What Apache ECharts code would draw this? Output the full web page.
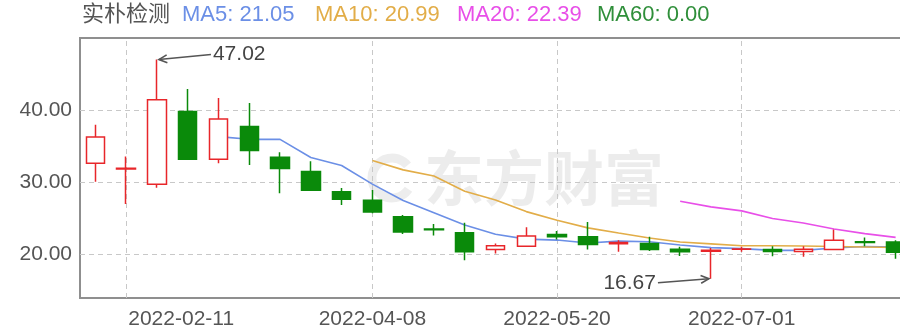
<!DOCTYPE html>
<html>
<head>
<meta charset="utf-8">
<script src="https://cdn.jsdelivr.net/npm/echarts@6/dist/echarts.min.js"></script>
<style>
html,body{margin:0;padding:0;background:#fff;overflow:hidden;width:900px;height:336px;}
#main{width:914px;height:336px;}
</style>
</head>
<body>
<div id="main"></div>
<script>
// ---- data ----
const stockName = '实朴检测';
const dates = ['2022-01-28','2022-02-11','2022-02-18','2022-02-25','2022-03-04','2022-03-11','2022-03-18','2022-03-25','2022-04-01','2022-04-08','2022-04-15','2022-04-22','2022-04-29','2022-05-06','2022-05-13','2022-05-20','2022-05-27','2022-06-02','2022-06-10','2022-06-17','2022-06-24','2022-07-01','2022-07-08','2022-07-15','2022-07-22','2022-07-29','2022-08-05'];
const opens  = [32.67,31.85,29.75,39.83,33.22,37.75,33.50,31.50,28.72,27.53,25.25,23.55,23.03,20.72,21.18,22.80,22.47,21.50,21.56,20.76,20.49,20.74,20.72,20.44,20.72,21.78,21.74];
const closes = [36.28,31.95,41.46,33.22,38.78,34.42,31.92,28.92,27.67,25.90,23.13,23.45,20.39,21.22,22.57,22.47,21.42,21.70,20.72,20.40,20.62,20.78,20.44,20.76,22.01,21.70,20.34];
const lows   = [30.11,27.01,29.28,33.22,32.67,32.43,28.50,28.92,26.88,25.72,22.85,22.67,19.24,20.17,21.18,22.10,20.72,20.40,20.50,19.80,16.67,20.39,19.79,19.70,20.72,21.18,19.42];
const highs  = [37.99,33.58,47.02,42.94,41.69,41.00,34.19,32.94,29.24,28.96,25.49,24.24,24.42,21.56,23.78,23.26,24.51,22.00,22.47,21.08,20.94,21.08,21.18,21.18,23.50,22.39,22.00];
const ma5  = ['-','-','-','-',36.34,35.97,35.96,33.45,32.34,29.77,27.51,25.81,24.11,22.82,22.15,22.02,21.61,21.88,21.78,21.34,20.97,20.84,20.59,20.60,20.92,21.14,21.05];
const ma10 = ['-','-','-','-','-','-','-','-','-',33.05,31.74,30.89,28.78,27.58,25.96,24.76,23.71,22.99,22.30,21.75,21.50,21.23,21.23,21.19,21.13,21.06,20.99];
const ma20 = ['-','-','-','-','-','-','-','-','-','-','-','-','-','-','-','-','-','-','-',27.40,26.62,26.06,25.01,24.38,23.55,22.91,22.39];
const ma60 = ['-','-','-','-','-','-','-','-','-','-','-','-','-','-','-','-','-','-','-','-','-','-','-','-','-','-','-'];
const yTickLabels = [20, 30, 40];
const xLabelIdx = [1, 9, 15, 21];
const watermark = '东方财富';

// ---- styles ----
const FONT = "'Liberation Sans', Arial, 'Noto Sans CJK SC', sans-serif";
const UP = '#e8262a', DOWN = '#0a8a0a';
const C_MA5 = '#6b8fe6', C_MA10 = '#e2ad48', C_MA20 = '#e84fe8', C_MA60 = '#2f8f3a';

const kdata = dates.map((d, i) => [opens[i], closes[i], lows[i], highs[i]]);
const lastVal = arr => { for (let i = arr.length - 1; i >= 0; i--) if (arr[i] !== '-') return arr[i]; return 0; };

const chart = echarts.init(document.getElementById('main'), null, {renderer: 'canvas'});

const lineSeries = (name, data, color) => ({
  name, type: 'line', data, symbol: 'none', smooth: false, silent: true,
  lineStyle: {color, width: 1.6}, z: 3
});

chart.setOption({
  animation: false,
  backgroundColor: '#fff',
  grid: {left: 80, top: 38, width: 831, height: 260, show: true, borderColor: '#8f8f8f', borderWidth: 2, backgroundColor: 'transparent'},
  xAxis: {
    type: 'category', data: dates, boundaryGap: true,
    axisLine: {show: false},
    axisTick: {show: false},
    axisLabel: {
      interval: (i) => xLabelIdx.includes(i),
      color: '#555', fontSize: 21, fontFamily: FONT, margin: 11,
      formatter: (v, i) => i === xLabelIdx[0] ? '{f|' + v + '}' : v,
      rich: {f: {color: '#555', fontSize: 21, fontFamily: FONT, padding: [0, 0, 0, 110]}}
    },
    splitLine: {show: false}
  },
  yAxis: {
    type: 'value', min: 14, max: 50, interval: 2, scale: true,
    axisLine: {show: false}, axisTick: {show: false},
    splitLine: {show: false},
    axisLabel: {
      color: '#555', fontSize: 21, fontFamily: FONT, margin: 8,
      formatter: (v) => yTickLabels.includes(v) ? v.toFixed(2) : ''
    }
  },
  series: [
    {
      name: stockName, type: 'candlestick', data: kdata, barWidth: 19,
      itemStyle: {color: '#ffffff', color0: DOWN, borderColor: UP, borderColor0: DOWN, borderWidth: 1.5},
      markLine: {
        silent: true, symbol: 'none', label: {show: false}, z: 1,
        lineStyle: {color: '#c8c8c8', type: [5, 4], width: 1},
        data: yTickLabels.map(v => ({yAxis: v})).concat(xLabelIdx.map(i => ({xAxis: i})))
      },
      z: 4
    },
    lineSeries('MA5', ma5, C_MA5),
    lineSeries('MA10', ma10, C_MA10),
    lineSeries('MA20', ma20, C_MA20),
    lineSeries('MA60', ma60, C_MA60)
  ]
});

// ---- legend texts, watermark and extreme-value annotations ----
const legendItems = [
  {x: 82, text: stockName, color: '#555'},
  {x: 182, text: 'MA5: ' + lastVal(ma5).toFixed(2), color: C_MA5},
  {x: 315, text: 'MA10: ' + lastVal(ma10).toFixed(2), color: C_MA10},
  {x: 457, text: 'MA20: ' + lastVal(ma20).toFixed(2), color: C_MA20},
  {x: 597, text: 'MA60: ' + lastVal(ma60).toFixed(2), color: C_MA60}
];

const elements = [];
legendItems.forEach(it => elements.push({
  type: 'text', left: it.x, top: 4, z: 10,
  style: {text: it.text, fill: it.color, font: '22px ' + FONT}
}));

// watermark
elements.push({
  type: 'text', x: 424, y: 178, z: -1, silent: true,
  style: {text: watermark, fill: 'rgba(0,0,0,0.075)', font: 'bold 60px "Noto Sans CJK SC", sans-serif', verticalAlign: 'middle', textAlign: 'left'}
});
elements.push({
  type: 'arc', shape: {cx: 392, cy: 178, r: 20, startAngle: 0.6, endAngle: 5.6}, z: -1, silent: true,
  style: {stroke: 'rgba(0,0,0,0.07)', lineWidth: 9, fill: null}
});

function arrow(tail, tip) {
  const dx = tail[0] - tip[0], dy = tail[1] - tip[1];
  const len = Math.hypot(dx, dy), ux = dx / len, uy = dy / len;
  const L = 9, a = 0.45;
  const rot = (ang) => [tip[0] + L * (ux * Math.cos(ang) - uy * Math.sin(ang)), tip[1] + L * (ux * Math.sin(ang) + uy * Math.cos(ang))];
  elements.push({type: 'line', z: 10, shape: {x1: tail[0], y1: tail[1], x2: tip[0], y2: tip[1]}, style: {stroke: '#555', lineWidth: 1.6}});
  elements.push({type: 'polyline', z: 10, shape: {points: [rot(a), tip, rot(-a)]}, style: {stroke: '#555', lineWidth: 1.6, fill: null}});
}

let hi = 0, lo = 0;
highs.forEach((v, i) => { if (v > highs[hi]) hi = i; });
lows.forEach((v, i) => { if (v < lows[lo]) lo = i; });
const pHi = chart.convertToPixel({xAxisIndex: 0, yAxisIndex: 0}, [hi, highs[hi]]);
const pLo = chart.convertToPixel({xAxisIndex: 0, yAxisIndex: 0}, [lo, lows[lo]]);

arrow([pHi[0] + 54, pHi[1] - 5], [pHi[0] + 2, pHi[1]]);
elements.push({type: 'text', x: pHi[0] + 56, y: pHi[1] - 5, z: 10,
  style: {text: highs[hi].toFixed(2), fill: '#444', font: '21px ' + FONT, verticalAlign: 'middle', textAlign: 'left'}});

arrow([pLo[0] - 53, pLo[1] + 4], [pLo[0] - 2, pLo[1]]);
elements.push({type: 'text', x: pLo[0] - 55, y: pLo[1] + 4, z: 10,
  style: {text: lows[lo].toFixed(2), fill: '#444', font: '21px ' + FONT, verticalAlign: 'middle', textAlign: 'right'}});

chart.setOption({graphic: {elements}});
</script>
</body>
</html>
